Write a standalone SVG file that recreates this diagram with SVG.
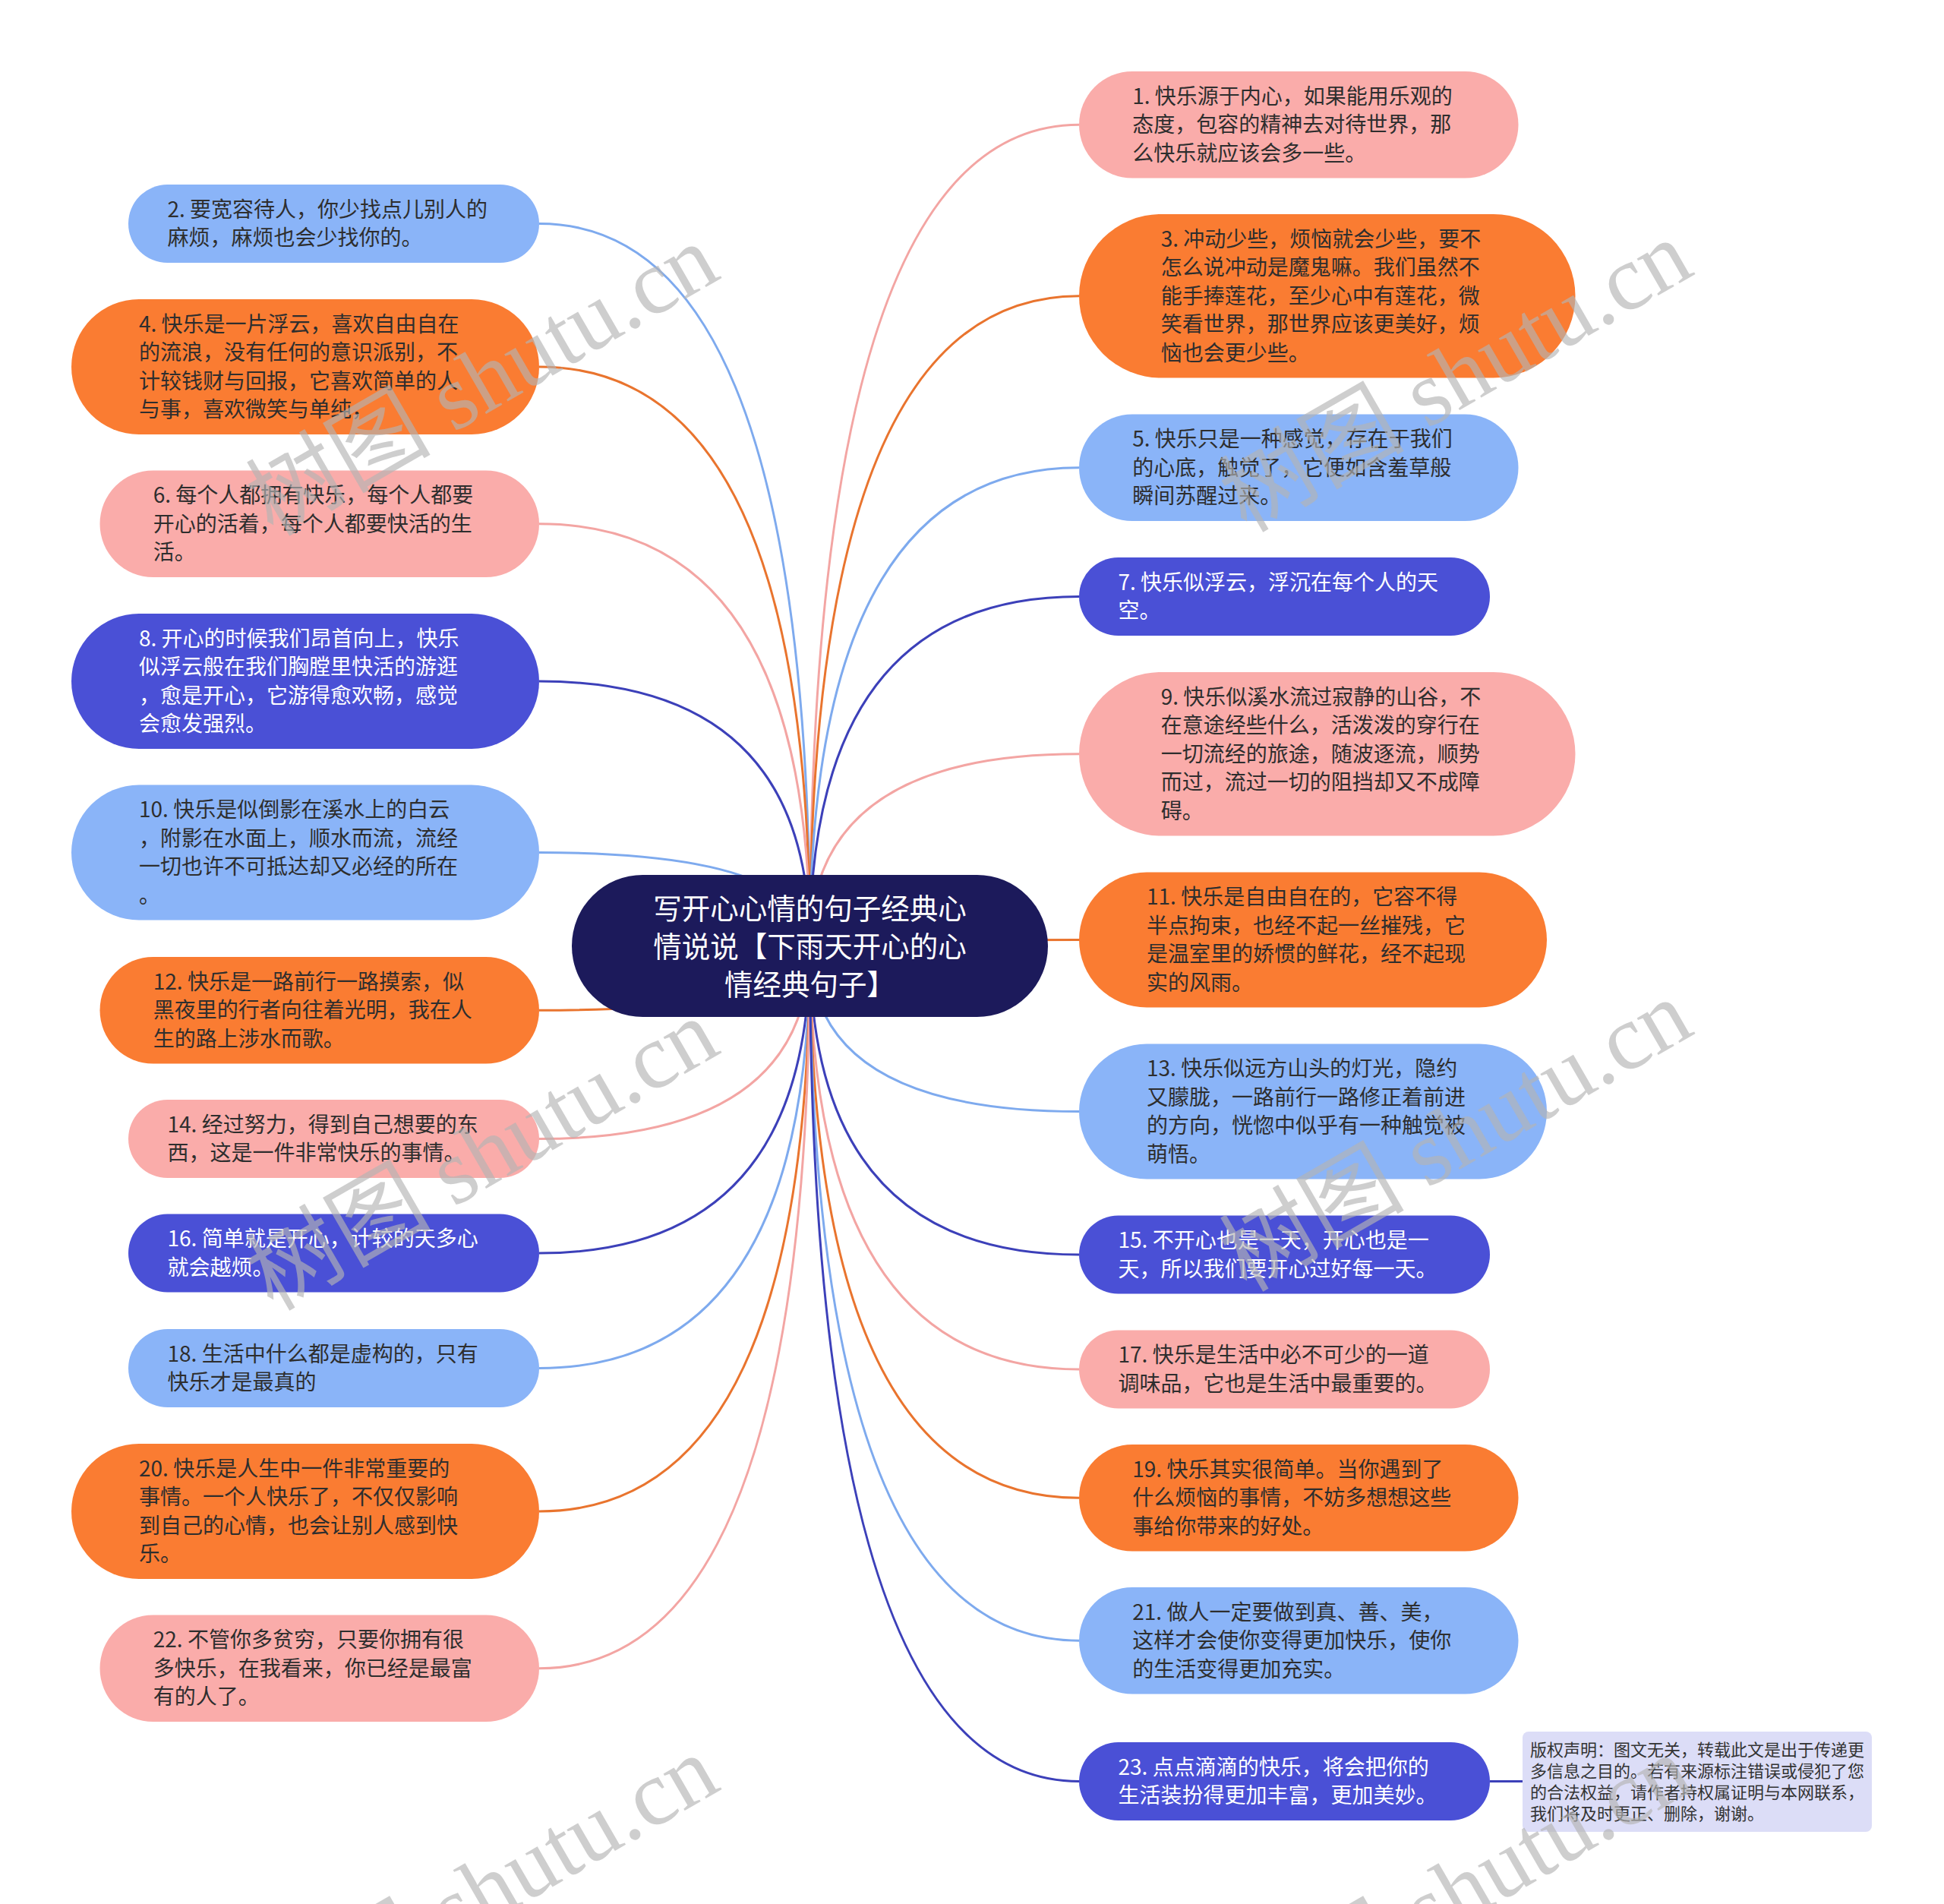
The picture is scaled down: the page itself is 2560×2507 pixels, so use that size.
<svg xmlns="http://www.w3.org/2000/svg" width="2560" height="2507" viewBox="0 0 2560 2507">
<style>
.bg{fill:#ffffff}
.pk{fill:#FAACAA}
.or{fill:#FA7C32}
.bl{fill:#8AB4F8}
.in{fill:#4A50D6}
.ct{fill:#1C1A5B}
.cp{fill:#DCDDF7}
.t{font-family:"Noto Sans CJK SC","Noto Sans",sans-serif;font-size:28px}
.dk{fill:#2e2e2e}
.wt{fill:#ffffff}
.title{font-family:"Noto Sans CJK SC","Noto Sans",sans-serif;font-size:37.5px;fill:#ffffff}
.cpt{font-family:"Noto Sans CJK SC","Noto Sans",sans-serif;font-size:22px;fill:#333333}
.c{fill:none;stroke-width:3}
.cpk{stroke:#F3A5A3}
.cor{stroke:#E9742E}
.cbl{stroke:#7EAAEE}
.cin{stroke:#3C40B9}
.wm{font-family:"Liberation Serif","Noto Sans CJK SC",serif;font-size:122px;fill:#b4b4b4;fill-opacity:0.65}
</style>
<rect class="bg" x="0" y="0" width="2560" height="2507"/>
<g id="connectors">
<path class="c cpk" d="M1421 164.25 Q1066.5 164.25 1066.5 1245.5"/>
<path class="c cbl" d="M710 294.5 Q1066.5 294.5 1066.5 1245.5"/>
<path class="c cor" d="M1421 389.75 Q1066.5 389.75 1066.5 1245.5"/>
<path class="c cor" d="M710 483 Q1066.5 483 1066.5 1245.5"/>
<path class="c cbl" d="M1421 615.75 Q1066.5 615.75 1066.5 1245.5"/>
<path class="c cpk" d="M710 689.75 Q1066.5 689.75 1066.5 1245.5"/>
<path class="c cin" d="M1421 785.5 Q1066.5 785.5 1066.5 1245.5"/>
<path class="c cin" d="M710 897 Q1066.5 897 1066.5 1245.5"/>
<path class="c cpk" d="M1421 992.75 Q1066.5 992.75 1066.5 1245.5"/>
<path class="c cbl" d="M710 1122.5 Q1066.5 1122.5 1066.5 1245.5"/>
<path class="c cor" d="M1421 1237.5 Q1066.5 1237.5 1066.5 1245.5"/>
<path class="c cor" d="M710 1330.25 Q1066.5 1330.25 1066.5 1245.5"/>
<path class="c cbl" d="M1421 1463.5 Q1066.5 1463.5 1066.5 1245.5"/>
<path class="c cpk" d="M710 1499.5 Q1066.5 1499.5 1066.5 1245.5"/>
<path class="c cin" d="M1421 1652 Q1066.5 1652 1066.5 1245.5"/>
<path class="c cin" d="M710 1650 Q1066.5 1650 1066.5 1245.5"/>
<path class="c cpk" d="M1421 1803 Q1066.5 1803 1066.5 1245.5"/>
<path class="c cbl" d="M710 1801.5 Q1066.5 1801.5 1066.5 1245.5"/>
<path class="c cor" d="M1421 1972.25 Q1066.5 1972.25 1066.5 1245.5"/>
<path class="c cor" d="M710 1990 Q1066.5 1990 1066.5 1245.5"/>
<path class="c cbl" d="M1421 2160.25 Q1066.5 2160.25 1066.5 1245.5"/>
<path class="c cpk" d="M710 2196.75 Q1066.5 2196.75 1066.5 1245.5"/>
<path class="c cin" d="M1421 2345.5 Q1066.5 2345.5 1066.5 1245.5"/>
<path class="c cin" d="M1962 2345.5 L2005 2345.5"/>
</g>
<g id="center">
<rect class="ct" x="753" y="1152" width="627" height="187" rx="93.5"/>
<text class="title" text-anchor="middle"><tspan x="1066.5" y="1209.5">写开心心情的句子经典心</tspan><tspan x="1066.5" y="1259.5">情说说【下雨天开心的心</tspan><tspan x="1066.5" y="1309.5">情经典句子】</tspan></text>
</g>
<g id="n1"><rect class="pk" x="1421" y="94" width="578.5" height="140.5" rx="70.25"/>
<text class="t dk"><tspan x="1491.25" y="136.75">1. 快乐源于内心，如果能用乐观的</tspan><tspan x="1491.25" y="174.25">态度，包容的精神去对待世界，那</tspan><tspan x="1491.25" y="211.75">么快乐就应该会多一些。</tspan></text></g>
<g id="n2"><rect class="bl" x="169" y="243" width="541" height="103" rx="51.5"/>
<text class="t dk"><tspan x="220.5" y="285.75">2. 要宽容待人，你少找点儿别人的</tspan><tspan x="220.5" y="323.25">麻烦，麻烦也会少找你的。</tspan></text></g>
<g id="n3"><rect class="or" x="1421" y="282" width="653.5" height="215.5" rx="107.75"/>
<text class="t dk"><tspan x="1528.75" y="324.75">3. 冲动少些，烦恼就会少些，要不</tspan><tspan x="1528.75" y="362.25">怎么说冲动是魔鬼嘛。我们虽然不</tspan><tspan x="1528.75" y="399.75">能手捧莲花，至少心中有莲花，微</tspan><tspan x="1528.75" y="437.25">笑看世界，那世界应该更美好，烦</tspan><tspan x="1528.75" y="474.75">恼也会更少些。</tspan></text></g>
<g id="n4"><rect class="or" x="94" y="394" width="616" height="178" rx="89"/>
<text class="t dk"><tspan x="183" y="436.75">4. 快乐是一片浮云，喜欢自由自在</tspan><tspan x="183" y="474.25">的流浪，没有任何的意识派别，不</tspan><tspan x="183" y="511.75">计较钱财与回报，它喜欢简单的人</tspan><tspan x="183" y="549.25">与事，喜欢微笑与单纯，</tspan></text></g>
<g id="n5"><rect class="bl" x="1421" y="545.5" width="578.5" height="140.5" rx="70.25"/>
<text class="t dk"><tspan x="1491.25" y="588.25">5. 快乐只是一种感觉，存在于我们</tspan><tspan x="1491.25" y="625.75">的心底，触觉了，它便如含羞草般</tspan><tspan x="1491.25" y="663.25">瞬间苏醒过来。</tspan></text></g>
<g id="n6"><rect class="pk" x="131.5" y="619.5" width="578.5" height="140.5" rx="70.25"/>
<text class="t dk"><tspan x="201.75" y="662.25">6. 每个人都拥有快乐，每个人都要</tspan><tspan x="201.75" y="699.75">开心的活着，每个人都要快活的生</tspan><tspan x="201.75" y="737.25">活。</tspan></text></g>
<g id="n7"><rect class="in" x="1421" y="734" width="541" height="103" rx="51.5"/>
<text class="t wt"><tspan x="1472.5" y="776.75">7. 快乐似浮云，浮沉在每个人的天</tspan><tspan x="1472.5" y="814.25">空。</tspan></text></g>
<g id="n8"><rect class="in" x="94" y="808" width="616" height="178" rx="89"/>
<text class="t wt"><tspan x="183" y="850.75">8. 开心的时候我们昂首向上，快乐</tspan><tspan x="183" y="888.25">似浮云般在我们胸膛里快活的游逛</tspan><tspan x="183" y="925.75">，愈是开心，它游得愈欢畅，感觉</tspan><tspan x="183" y="963.25">会愈发强烈。</tspan></text></g>
<g id="n9"><rect class="pk" x="1421" y="885" width="653.5" height="215.5" rx="107.75"/>
<text class="t dk"><tspan x="1528.75" y="927.75">9. 快乐似溪水流过寂静的山谷，不</tspan><tspan x="1528.75" y="965.25">在意途经些什么，活泼泼的穿行在</tspan><tspan x="1528.75" y="1002.75">一切流经的旅途，随波逐流，顺势</tspan><tspan x="1528.75" y="1040.25">而过，流过一切的阻挡却又不成障</tspan><tspan x="1528.75" y="1077.75">碍。</tspan></text></g>
<g id="n10"><rect class="bl" x="94" y="1033.5" width="616" height="178" rx="89"/>
<text class="t dk"><tspan x="183" y="1076.25">10. 快乐是似倒影在溪水上的白云</tspan><tspan x="183" y="1113.75">，附影在水面上，顺水而流，流经</tspan><tspan x="183" y="1151.25">一切也许不可抵达却又必经的所在</tspan><tspan x="183" y="1188.75">。</tspan></text></g>
<g id="n11"><rect class="or" x="1421" y="1148.5" width="616" height="178" rx="89"/>
<text class="t dk"><tspan x="1510" y="1191.25">11. 快乐是自由自在的，它容不得</tspan><tspan x="1510" y="1228.75">半点拘束，也经不起一丝摧残，它</tspan><tspan x="1510" y="1266.25">是温室里的娇惯的鲜花，经不起现</tspan><tspan x="1510" y="1303.75">实的风雨。</tspan></text></g>
<g id="n12"><rect class="or" x="131.5" y="1260" width="578.5" height="140.5" rx="70.25"/>
<text class="t dk"><tspan x="201.75" y="1302.75">12. 快乐是一路前行一路摸索，似</tspan><tspan x="201.75" y="1340.25">黑夜里的行者向往着光明，我在人</tspan><tspan x="201.75" y="1377.75">生的路上涉水而歌。</tspan></text></g>
<g id="n13"><rect class="bl" x="1421" y="1374.5" width="616" height="178" rx="89"/>
<text class="t dk"><tspan x="1510" y="1417.25">13. 快乐似远方山头的灯光，隐约</tspan><tspan x="1510" y="1454.75">又朦胧，一路前行一路修正着前进</tspan><tspan x="1510" y="1492.25">的方向，恍惚中似乎有一种触觉被</tspan><tspan x="1510" y="1529.75">萌悟。</tspan></text></g>
<g id="n14"><rect class="pk" x="169" y="1448" width="541" height="103" rx="51.5"/>
<text class="t dk"><tspan x="220.5" y="1490.75">14. 经过努力，得到自己想要的东</tspan><tspan x="220.5" y="1528.25">西，这是一件非常快乐的事情。</tspan></text></g>
<g id="n15"><rect class="in" x="1421" y="1600.5" width="541" height="103" rx="51.5"/>
<text class="t wt"><tspan x="1472.5" y="1643.25">15. 不开心也是一天，开心也是一</tspan><tspan x="1472.5" y="1680.75">天，所以我们要开心过好每一天。</tspan></text></g>
<g id="n16"><rect class="in" x="169" y="1598.5" width="541" height="103" rx="51.5"/>
<text class="t wt"><tspan x="220.5" y="1641.25">16. 简单就是开心，计较的天多心</tspan><tspan x="220.5" y="1678.75">就会越烦。</tspan></text></g>
<g id="n17"><rect class="pk" x="1421" y="1751.5" width="541" height="103" rx="51.5"/>
<text class="t dk"><tspan x="1472.5" y="1794.25">17. 快乐是生活中必不可少的一道</tspan><tspan x="1472.5" y="1831.75">调味品，它也是生活中最重要的。</tspan></text></g>
<g id="n18"><rect class="bl" x="169" y="1750" width="541" height="103" rx="51.5"/>
<text class="t dk"><tspan x="220.5" y="1792.75">18. 生活中什么都是虚构的，只有</tspan><tspan x="220.5" y="1830.25">快乐才是最真的</tspan></text></g>
<g id="n19"><rect class="or" x="1421" y="1902" width="578.5" height="140.5" rx="70.25"/>
<text class="t dk"><tspan x="1491.25" y="1944.75">19. 快乐其实很简单。当你遇到了</tspan><tspan x="1491.25" y="1982.25">什么烦恼的事情，不妨多想想这些</tspan><tspan x="1491.25" y="2019.75">事给你带来的好处。</tspan></text></g>
<g id="n20"><rect class="or" x="94" y="1901" width="616" height="178" rx="89"/>
<text class="t dk"><tspan x="183" y="1943.75">20. 快乐是人生中一件非常重要的</tspan><tspan x="183" y="1981.25">事情。一个人快乐了，不仅仅影响</tspan><tspan x="183" y="2018.75">到自己的心情，也会让别人感到快</tspan><tspan x="183" y="2056.25">乐。</tspan></text></g>
<g id="n21"><rect class="bl" x="1421" y="2090" width="578.5" height="140.5" rx="70.25"/>
<text class="t dk"><tspan x="1491.25" y="2132.75">21. 做人一定要做到真、善、美，</tspan><tspan x="1491.25" y="2170.25">这样才会使你变得更加快乐，使你</tspan><tspan x="1491.25" y="2207.75">的生活变得更加充实。</tspan></text></g>
<g id="n22"><rect class="pk" x="131.5" y="2126.5" width="578.5" height="140.5" rx="70.25"/>
<text class="t dk"><tspan x="201.75" y="2169.25">22. 不管你多贫穷，只要你拥有很</tspan><tspan x="201.75" y="2206.75">多快乐，在我看来，你已经是最富</tspan><tspan x="201.75" y="2244.25">有的人了。</tspan></text></g>
<g id="n23"><rect class="in" x="1421" y="2294" width="541" height="103" rx="51.5"/>
<text class="t wt"><tspan x="1472.5" y="2336.75">23. 点点滴滴的快乐，将会把你的</tspan><tspan x="1472.5" y="2374.25">生活装扮得更加丰富，更加美妙。</tspan></text></g>
<g id="copyright"><rect class="cp" x="2005" y="2280" width="460" height="132" rx="8"/>
<text class="cpt"><tspan x="2015" y="2312">版权声明：图文无关，转载此文是出于传递更</tspan><tspan x="2015" y="2340">多信息之目的。若有来源标注错误或侵犯了您</tspan><tspan x="2015" y="2368">的合法权益，请作者持权属证明与本网联系，</tspan><tspan x="2015" y="2396">我们将及时更正、删除，谢谢。</tspan></text></g>
<g id="watermarks">
<text class="wm" text-anchor="end" transform="translate(952 365) rotate(-30)">树图 shutu.cn</text>
<text class="wm" text-anchor="end" transform="translate(2234 360) rotate(-30)">树图 shutu.cn</text>
<text class="wm" text-anchor="end" transform="translate(952 1385) rotate(-30)">树图 shutu.cn</text>
<text class="wm" text-anchor="end" transform="translate(2234 1360) rotate(-30)">树图 shutu.cn</text>
<text class="wm" text-anchor="end" transform="translate(952 2355) rotate(-30)">树图 shutu.cn</text>
<text class="wm" text-anchor="end" transform="translate(2234 2355) rotate(-30)">树图 shutu.cn</text>
</g>
</svg>
